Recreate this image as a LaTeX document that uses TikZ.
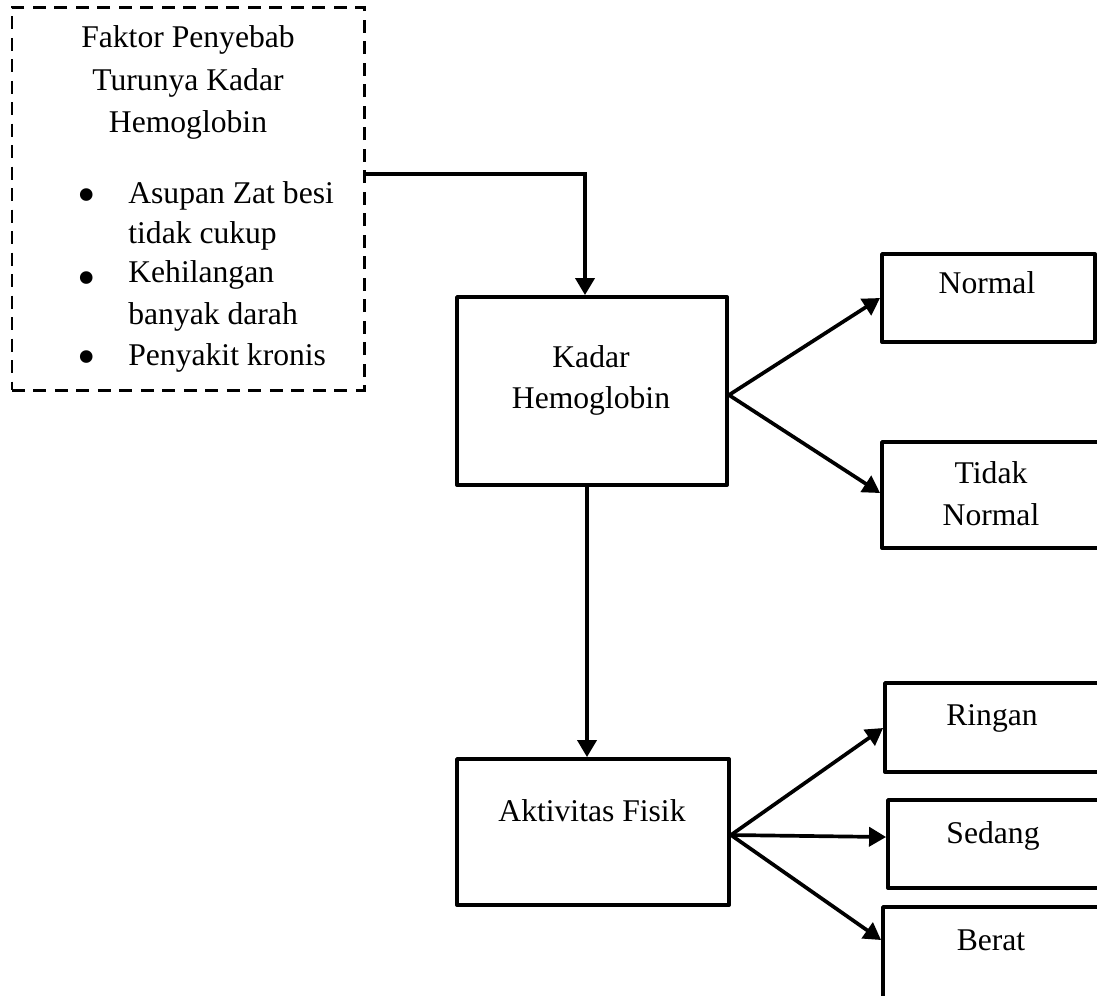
\documentclass[tikz,border=0pt]{standalone}
\usepackage{fontspec}
\setmainfont{Liberation Serif}
\usetikzlibrary{arrows.meta,fit}
\begin{document}
\begin{tikzpicture}[x=0.02cm,y=-0.02cm,
  box/.style={draw, line width=2.2pt, inner sep=0pt, line join=round},
  dbox/.style={draw, line width=1.7pt, dash pattern=on 0.26cm off 0.17cm, inner sep=0pt},
  txt/.style={anchor=base, inner sep=0pt, font=\fontsize{18}{22}\selectfont},
  ltxt/.style={txt, anchor=base west},
  dot/.style={anchor=base, inner sep=0pt, font=\fontsize{30}{32}\selectfont},
  arr/.style={line width=2.1pt, -{Triangle[length=0.34cm,width=0.38cm]}},
]
\useasboundingbox (0,0) rectangle (1097,995);

% boxes
\node[dbox, fit={(12,7) (364,390)}] (faktor) {};
\node[box, fit={(457,297) (727,485)}] (kadar) {};
\node[box, fit={(882,254) (1095,342)}] (normal) {};
\node[box, fit={(882,442) (1099,548)}] (tidak) {};
\node[box, fit={(457,759) (729,905)}] (akt) {};
\node[box, fit={(885,683) (1099,772)}] (ringan) {};
\node[box, fit={(888,800) (1099,888)}] (sedang) {};
\node[box, fit={(883,907) (1099,1003)}] (berat) {};

% texts
\node[txt] (f1) at (188,47) {Faktor Penyebab};
\node[txt] (f2) at (188,90) {Turunya Kadar};
\node[txt] (f3) at (188,132) {Hemoglobin};
\node[dot] (d1) at (87,212) {•};
\node[dot] (d2) at (87,295) {•};
\node[dot] (d3) at (87,374) {•};
\node[ltxt] (l1) at (128,203) {Asupan Zat besi};
\node[ltxt] (l2) at (128,243) {tidak cukup};
\node[ltxt] (l3) at (128,282) {Kehilangan};
\node[ltxt] (l4) at (128,324) {banyak darah};
\node[ltxt] (l5) at (128,365) {Penyakit kronis};

\node[txt] (k1) at (591,367) {Kadar};
\node[txt] (k2) at (591,408) {Hemoglobin};
\node[txt] (n1) at (987,293) {Normal};
\node[txt] (t1) at (991,483) {Tidak};
\node[txt] (t2) at (991,525) {Normal};
\node[txt] (a1) at (592,821) {Aktivitas Fisik};
\node[txt] (r1) at (992,725) {Ringan};
\node[txt] (s1) at (993,843) {Sedang};
\node[txt] (be1) at (991,950) {Berat};

% connectors
\coordinate (vx1) at (585,0);
\coordinate (vx2) at (587,0);
\draw[arr] (faktor.east |- 0,174) -| (kadar.north -| vx1);
\draw[arr] (kadar.south -| vx2) -- (akt.north -| vx2);
\draw[arr] (kadar.east |- 0,395) -- (normal.west);
\draw[arr] (kadar.east |- 0,395) -- (tidak.west |- 0,493);
\draw[arr] (akt.east |- 0,835) -- (ringan.west |- 0,728);
\draw[arr] (akt.east |- 0,835) -- (sedang.west |- 0,837);
\draw[arr] (akt.east |- 0,835) -- (berat.west |- 0,940);
\end{tikzpicture}
\end{document}
